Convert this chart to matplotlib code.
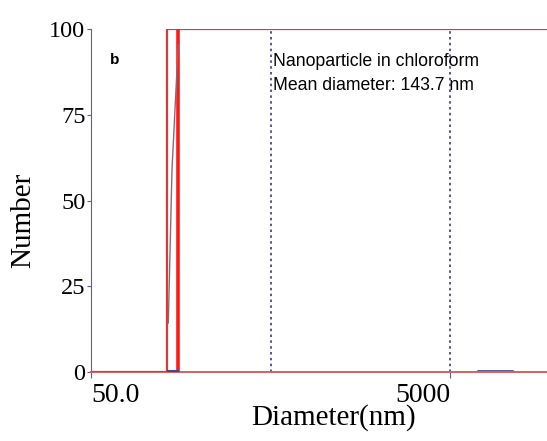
import matplotlib.pyplot as plt

# size distribution
step_size = [50, 132, 132, 17350]
step_number = [0, 0, 100, 100]
peak_size = [153, 153]
peak_number = [0, 100]
trace_size = [134.8, 141.3, 153]
trace_number = [14.3, 58.9, 95.3]
tail_size = [7160, 11070]
tail_number = [0.3, 0.3]
grid_sizes = [500, 5000]

yticks = [0, 25, 50, 75, 100]
xticks = [50, 5000]
xticklabels = ['50.0', '5000']

W, H = 547, 441
fig = plt.figure(figsize=(W / 100, H / 100), dpi=100)
ax = fig.add_axes([91 / W, 1 - 372 / H, (W - 91) / W, (372 - 29) / H])

ax.set_xscale('log')
ax.set_xlim(50, 17350)
ax.set_ylim(0, 100)

for g in grid_sizes:
    ax.axvline(g, color='#3a3a85', linestyle=(0, (1.5, 2)), lw=1.2, zorder=1)

ax.plot(step_size, step_number, color='#d83a3a', lw=1.6, zorder=3)
ax.plot(peak_size, peak_number, color='#ff1a1a', lw=2.6, zorder=3)
ax.plot(trace_size, trace_number, color='#8a6a70', lw=1.0, zorder=4)
ax.plot([134, 153], [0.3, 0.3], color='#3a4a9a', lw=1.5, zorder=4)
ax.plot(tail_size, tail_number, color='#2a2a80', lw=1.8, zorder=2)

for s in ['top', 'right']:
    ax.spines[s].set_visible(False)
ax.spines['left'].set_color('#5b5ea6')
ax.spines['bottom'].set_color('#d86060')
ax.spines['bottom'].set_linewidth(1.4)

ax.set_yticks(yticks)
ax.set_yticklabels([str(v) for v in yticks], fontsize=17.5, family='Liberation Serif')
ax.set_xticks(xticks)
ax.set_xticklabels(xticklabels, fontsize=20, family='Liberation Serif')
ax.xaxis.set_minor_locator(plt.NullLocator())
ax.tick_params(axis='y', length=3, color='#5b5ea6', pad=1)
ax.tick_params(axis='x', length=4, color='#5b5ea6', pad=4)
lbls = ax.get_xticklabels()
lbls[0].set_ha('left')
lbls[1].set_ha('right')

fig.text(23 / W, 1 - 220 / H, 'Number', rotation=90, ha='center', va='center',
         fontsize=21, family='Liberation Serif')
fig.text(334 / W, 1 - 418 / H, 'Diameter(nm)', ha='center', va='center',
         fontsize=21, family='Liberation Serif')

fig.text(110 / W, 1 - 60 / H, 'b', fontsize=11, fontweight='bold',
         family='Liberation Sans', va='center')
fig.text(273 / W, 1 - 62 / H, 'Nanoparticle in chloroform', fontsize=12.7,
         family='Liberation Sans', va='center')
fig.text(273 / W, 1 - 85 / H, 'Mean diameter: 143.7 nm', fontsize=12.7,
         family='Liberation Sans', va='center')

fig.savefig('out.png', dpi=100)
